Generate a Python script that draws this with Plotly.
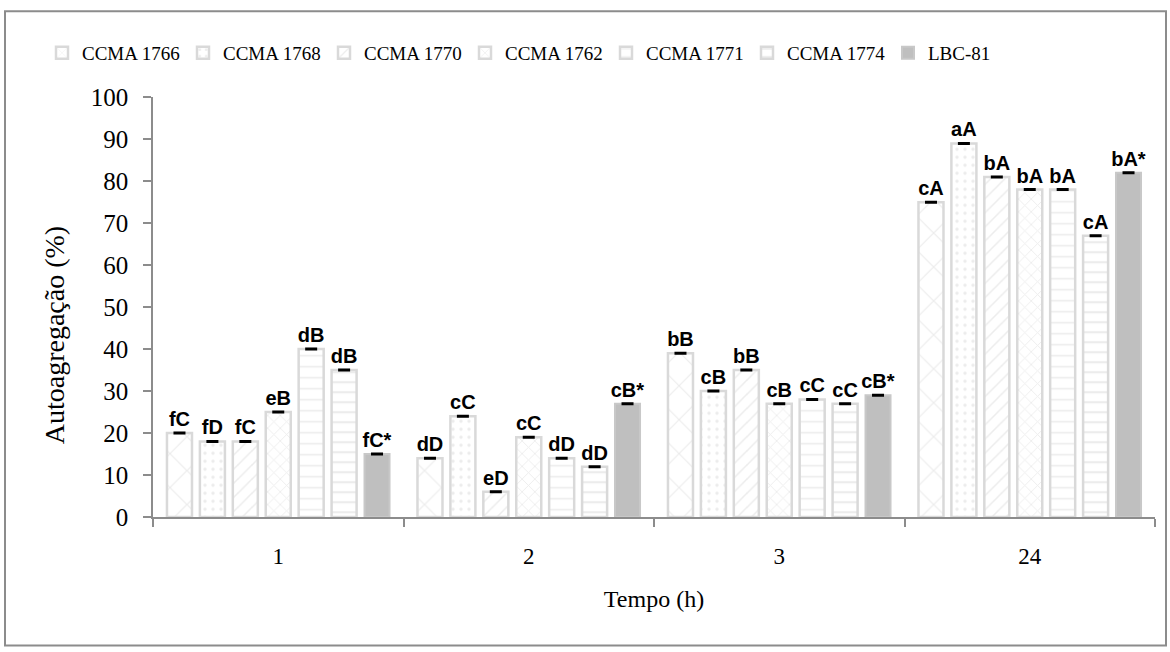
import plotly.graph_objects as go

categories = ["1", "2", "3", "24"]
series_names = ["CCMA 1766", "CCMA 1768", "CCMA 1770", "CCMA 1762", "CCMA 1771", "CCMA 1774", "LBC-81"]
values_1766 = [20, 14, 39, 75]
values_1768 = [18, 24, 30, 89]
values_1770 = [18, 6, 35, 81]
values_1762 = [25, 19, 27, 78]
values_1771 = [40, 14, 28, 78]
values_1774 = [35, 12, 27, 67]
values_lbc81 = [15, 27, 29, 82]
labels_1766 = ["fC", "dD", "bB", "cA"]
labels_1768 = ["fD", "cC", "cB", "aA"]
labels_1770 = ["fC", "eD", "bB", "bA"]
labels_1762 = ["eB", "cC", "cB", "bA"]
labels_1771 = ["dB", "dD", "cC", "bA"]
labels_1774 = ["dB", "dD", "cC", "cA"]
labels_lbc81 = ["fC*", "cB*", "cB*", "bA*"]
y_ticks = list(range(0, 101, 10))

all_values = [values_1766, values_1768, values_1770, values_1762, values_1771, values_1774, values_lbc81]
all_labels = [labels_1766, labels_1768, labels_1770, labels_1762, labels_1771, labels_1774, labels_lbc81]

hatch = "#d9d9d9"
patterns = [
    dict(shape="x", size=24, solidity=0.1, fgcolor=hatch, bgcolor="white"),
    dict(shape=".", size=8, solidity=0.15, fgcolor=hatch, bgcolor="white"),
    dict(shape="/", size=10, solidity=0.15, fgcolor=hatch, bgcolor="white"),
    dict(shape="x", size=9, solidity=0.18, fgcolor=hatch, bgcolor="white"),
    dict(shape="-", size=11, solidity=0.15, fgcolor=hatch, bgcolor="white"),
    dict(shape="-", size=10, solidity=0.22, fgcolor=hatch, bgcolor="white"),
    None,
]

fig = go.Figure()
for name, vals, labs, pat in zip(series_names, all_values, all_labels, patterns):
    if pat is None:
        marker = dict(color="#bfbfbf", line=dict(color="#c8c8c8", width=2))
    else:
        marker = dict(color="white", pattern=pat, line=dict(color=hatch, width=2.5))
    fig.add_trace(go.Bar(
        name=name, x=categories, y=vals, text=labs,
        textposition="outside", cliponaxis=False, constraintext="none", textangle=0,
        textfont=dict(family="Liberation Sans, Arial", size=20, color="black", weight="bold"),
        marker=marker,
        error_y=dict(type="data", array=[0] * len(vals), visible=True, color="black", thickness=3, width=6),
    ))

fig.update_layout(
    width=1170, height=652,
    margin=dict(l=153, r=15, t=92, b=135),
    paper_bgcolor="white", plot_bgcolor="white",
    barmode="group", bargap=0.08, bargroupgap=0.24,
    font=dict(family="Liberation Serif, Times New Roman", color="black"),
    legend=dict(orientation="h", xref="container", x=42 / 1170, xanchor="left",
                yref="container", y=1 - 53 / 652, yanchor="middle",
                font=dict(size=19, family="Liberation Serif"),
                entrywidth=96, entrywidthmode="pixels", itemwidth=30,
                traceorder="normal"),
    showlegend=True,
)
fig.update_xaxes(
    type="category", showline=True, linecolor="#8c8c8c", linewidth=1.5,
    ticks="outside", tickson="boundaries", ticklen=8, tickcolor="#8c8c8c", tickwidth=1.5,
    tickfont=dict(size=23), ticklabelstandoff=18,
    title=dict(text="Tempo (h)", font=dict(size=24), standoff=22),
    showgrid=False,
)
fig.update_yaxes(
    range=[0, 100], tickvals=y_ticks, showline=True, linecolor="#8c8c8c", linewidth=1.5,
    ticks="outside", ticklen=8, tickcolor="#8c8c8c", tickwidth=1.5,
    tickfont=dict(size=25), ticklabelstandoff=10, showgrid=False, zeroline=False,
)
fig.add_annotation(text="Autoagregação (%)", xref="paper", yref="paper",
                   x=(54 - 153) / 1002, y=(517 - 333) / 425, xanchor="center", yanchor="middle",
                   textangle=-90, showarrow=False, font=dict(size=28))
fig.add_shape(type="rect", xref="paper", yref="paper",
              x0=(5 - 153) / 1002, x1=(1166 - 153) / 1002, y0=(517 - 647) / 425, y1=(517 - 5) / 425,
              line=dict(color="#8c8c8c", width=2), fillcolor="rgba(0,0,0,0)", layer="below")
fig.write_html("out.html")
